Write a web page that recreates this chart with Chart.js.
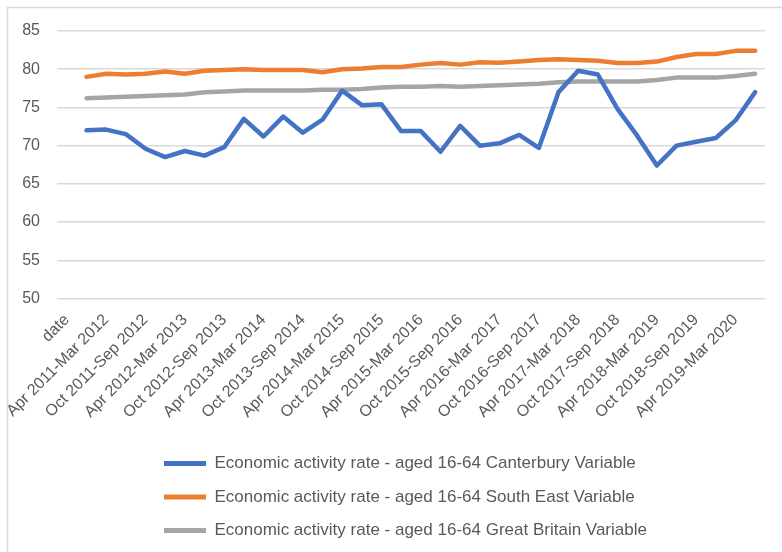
<!DOCTYPE html>
<html>
<head>
<meta charset="utf-8">
<script src="https://cdn.jsdelivr.net/npm/chart.js@4/dist/chart.umd.min.js"></script>
<style>
  html, body { margin: 0; padding: 0; background: #ffffff; }
  #wrap { width: 782px; height: 552px; position: relative; }
</style>
</head>
<body>
<div id="wrap"><canvas id="chart" width="782" height="552"></canvas></div>
<script>
// Rolling 12-month periods, quarterly steps (first category is the header cell "date")
const periods = [
  "date",
  "Jan 2011-Dec 2011", "Apr 2011-Mar 2012", "Jul 2011-Jun 2012", "Oct 2011-Sep 2012",
  "Jan 2012-Dec 2012", "Apr 2012-Mar 2013", "Jul 2012-Jun 2013", "Oct 2012-Sep 2013",
  "Jan 2013-Dec 2013", "Apr 2013-Mar 2014", "Jul 2013-Jun 2014", "Oct 2013-Sep 2014",
  "Jan 2014-Dec 2014", "Apr 2014-Mar 2015", "Jul 2014-Jun 2015", "Oct 2014-Sep 2015",
  "Jan 2015-Dec 2015", "Apr 2015-Mar 2016", "Jul 2015-Jun 2016", "Oct 2015-Sep 2016",
  "Jan 2016-Dec 2016", "Apr 2016-Mar 2017", "Jul 2016-Jun 2017", "Oct 2016-Sep 2017",
  "Jan 2017-Dec 2017", "Apr 2017-Mar 2018", "Jul 2017-Jun 2018", "Oct 2017-Sep 2018",
  "Jan 2018-Dec 2018", "Apr 2018-Mar 2019", "Jul 2018-Jun 2019", "Oct 2018-Sep 2019",
  "Jan 2019-Dec 2019", "Apr 2019-Mar 2020", "Jul 2019-Jun 2020"
];

// Economic activity rate, aged 16-64 (%)
const canterbury = [
  null,
  72.0, 72.1, 71.5, 69.6, 68.5, 69.3, 68.7, 69.8, 73.5, 71.2,
  73.8, 71.7, 73.4, 77.2, 75.3, 75.4, 71.9, 71.9, 69.2, 72.6,
  70.0, 70.3, 71.4, 69.7, 77.0, 79.8, 79.3, 74.8, 71.3, 67.4,
  70.0, 70.5, 71.0, 73.3, 77.0
];
const southEast = [
  null,
  79.0, 79.4, 79.3, 79.4, 79.7, 79.4, 79.8, 79.9, 80.0, 79.9,
  79.9, 79.9, 79.6, 80.0, 80.1, 80.3, 80.3, 80.6, 80.8, 80.6,
  80.9, 80.85, 81.0, 81.2, 81.3, 81.2, 81.1, 80.8, 80.8, 81.0,
  81.6, 82.0, 82.0, 82.4, 82.4
];
const greatBritain = [
  null,
  76.2, 76.3, 76.4, 76.5, 76.6, 76.7, 77.0, 77.1, 77.2, 77.2,
  77.2, 77.2, 77.3, 77.3, 77.4, 77.6, 77.7, 77.7, 77.8, 77.7,
  77.8, 77.9, 78.0, 78.1, 78.3, 78.4, 78.4, 78.4, 78.4, 78.6,
  78.9, 78.9, 78.9, 79.1, 79.4
];

const seriesNames = [
  "Economic activity rate - aged 16-64 Canterbury Variable",
  "Economic activity rate - aged 16-64 South East Variable",
  "Economic activity rate - aged 16-64 Great Britain Variable"
];
const seriesColors = ["#4472C4", "#ED7D31", "#A5A5A5"];

const FONT = "'Liberation Sans', Arial, sans-serif";
const TEXT = "#595959";
const LEGEND_LEFT = 164;   // rows of the legend share one left edge

// Thin outer frame of the chart object
const framePlugin = {
  id: 'frame',
  beforeDraw(chart) {
    const ctx = chart.ctx;
    ctx.save();
    ctx.fillStyle = '#ffffff';
    ctx.fillRect(0, 0, chart.width, chart.height);
    ctx.strokeStyle = '#d9d9d9';
    ctx.lineWidth = 1.5;
    ctx.strokeRect(7.5, 7.5, chart.width + 20, chart.height + 20);
    ctx.restore();
  }
};

// Left-align legend rows as one centred block
const legendAlignPlugin = {
  id: 'legendAlign',
  afterLayout(chart) {
    const lg = chart.legend;
    if (lg) lg.left = LEGEND_LEFT - lg.options.labels.padding;
  }
};

const makeSet = (i, values) => ({
  label: seriesNames[i],
  data: values,
  borderColor: seriesColors[i],
  backgroundColor: seriesColors[i],
  borderWidth: 4.5,
  pointRadius: 0,
  pointHoverRadius: 0,
  tension: 0,
  spanGaps: false,
  borderCapStyle: 'round',
  borderJoinStyle: 'round'
});

new Chart(document.getElementById('chart'), {
  type: 'line',
  data: {
    labels: periods,
    datasets: [
      makeSet(0, canterbury),
      makeSet(1, southEast),
      makeSet(2, greatBritain)
    ]
  },
  plugins: [framePlugin, legendAlignPlugin],
  options: {
    responsive: false,
    animation: false,
    layout: { padding: { top: 31, right: 17, bottom: 3, left: 0 } },
    plugins: {
      tooltip: { enabled: false },
      legend: {
        position: 'bottom',
        align: 'start',
        labels: {
          boxWidth: 42,
          boxHeight: 5,
          padding: 16.5,
          color: TEXT,
          font: { family: FONT, size: 17 },
          generateLabels: (chart) => chart.data.datasets.map((ds, i) => ({
            text: ds.label,
            fillStyle: ds.borderColor,
            strokeStyle: ds.borderColor,
            lineWidth: 0,
            hidden: false,
            datasetIndex: i,
            fontColor: TEXT
          }))
        }
      }
    },
    scales: {
      x: {
        type: 'category',
        offset: true,
        grid: { display: false, drawTicks: false },
        border: { display: false },
        afterFit(scale) { scale.height = 140; },
        ticks: {
          autoSkip: false,
          maxRotation: 45,
          minRotation: 45,
          padding: 12,
          color: TEXT,
          font: { family: FONT, size: 16 },
          callback(value, index) {
            return index % 2 === 0 ? this.getLabelForValue(value) : '';
          }
        }
      },
      y: {
        min: 50,
        max: 85,
        grid: { color: '#d9d9d9', lineWidth: 1.5, drawTicks: false },
        border: { display: false },
        afterFit(scale) { scale.width = 57; },
        ticks: {
          stepSize: 5,
          padding: 17,
          color: TEXT,
          font: { family: FONT, size: 16 }
        }
      }
    }
  }
});
</script>
</body>
</html>
